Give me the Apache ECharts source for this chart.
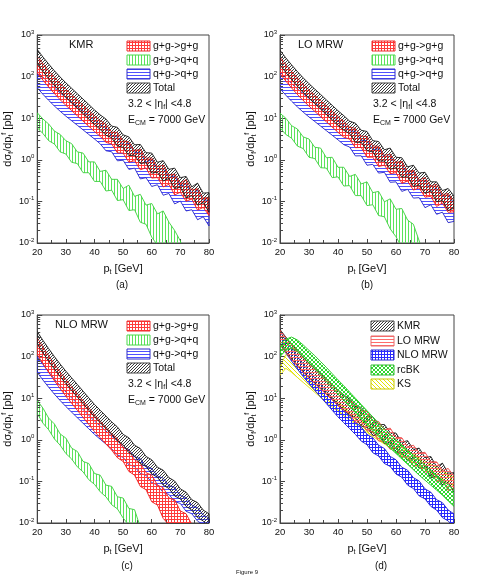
<!DOCTYPE html>
<html>
<head>
<meta charset="utf-8">
<script src="https://cdn.jsdelivr.net/npm/echarts@6/dist/echarts.min.js"></script>
<style>
  html, body { margin: 0; padding: 0; background: #fff; }
  #chart { width: 490px; height: 578px; }
</style>
</head>
<body>
<div id="chart"></div>
<script>
// transverse momentum grid [GeV]
const pt = [20, 22, 24, 26, 28, 30, 32, 34, 36, 38, 40, 42, 44, 46, 48, 50,
  52, 54, 56, 58, 60, 62, 64, 66, 68, 70, 72, 74, 76, 78, 80];

// (a) KMR
const kmrGgHi = [309, 205, 139, 96.8, 68.9, 50.1, 37.3, 27.8, 20.7, 15.4, 11.5, 8.75, 7.14, 4.63, 4.55, 2.88, 2.70, 1.67, 1.80, 1.09, 1.12, 0.679, 0.748, 0.433, 0.455, 0.275, 0.333, 0.188, 0.202, 0.120, 0.126];
const kmrGgLo = [123, 82.0, 56.0, 39.1, 27.9, 20.4, 15.3, 11.4, 8.55, 6.40, 4.79, 3.66, 2.62, 2.41, 1.47, 1.45, 0.879, 0.951, 0.578, 0.640, 0.363, 0.375, 0.223, 0.258, 0.143, 0.166, 0.101, 0.114, 0.0619, 0.0718, 0.0457];
const kmrQqHi = [13.5, 9.55, 7.24, 4.90, 4.07, 2.88, 2.45, 1.55, 1.45, 0.891, 0.891, 0.525, 0.562, 0.339, 0.339, 0.204, 0.245, 0.132, 0.148, 0.0813, 0.0891, 0.0501, 0.0589, 0.0316, 0.0200, 0.0112, 0.0032, 0.001, 0.001, 0.001, 0.001];
const kmrQqLo = [5.89, 4.27, 2.88, 2.40, 1.55, 1.38, 0.871, 0.813, 0.490, 0.490, 0.302, 0.302, 0.178, 0.186, 0.105, 0.110, 0.0603, 0.0631, 0.0316, 0.0282, 0.0138, 0.0089, 0.004, 0.001, 0.001, 0.001, 0.001, 0.001, 0.001, 0.001, 0.001];
const kmrQgHi = [135, 96.6, 70.8, 53.1, 40.7, 31.6, 24.5, 19.1, 14.8, 11.5, 8.91, 6.92, 5.89, 3.72, 3.55, 2.29, 2.47, 1.50, 1.47, 0.873, 1.01, 0.583, 0.615, 0.373, 0.411, 0.233, 0.263, 0.156, 0.184, 0.107, 0.107];
const kmrQgLo = [53.7, 37.5, 26.8, 19.6, 14.7, 11.2, 8.71, 6.76, 5.25, 4.07, 3.16, 2.42, 1.65, 1.56, 0.946, 0.977, 0.589, 0.631, 0.347, 0.372, 0.229, 0.251, 0.141, 0.155, 0.0871, 0.102, 0.0589, 0.0631, 0.0363, 0.0427, 0.0257];
const kmrTotHi = [447, 295, 200, 138, 97.7, 70.8, 52.5, 38.9, 28.8, 21.4, 15.8, 12.0, 9.55, 6.46, 6.03, 3.98, 3.55, 2.29, 2.34, 1.48, 1.45, 0.871, 0.955, 0.589, 0.631, 0.372, 0.398, 0.224, 0.275, 0.158, 0.162];
const kmrTotLo = [200, 132, 89.1, 61.7, 43.7, 31.6, 23.4, 17.4, 12.9, 9.55, 7.08, 5.37, 3.89, 3.39, 2.14, 2.00, 1.26, 1.29, 0.813, 0.851, 0.479, 0.501, 0.309, 0.355, 0.204, 0.219, 0.120, 0.138, 0.0813, 0.0933, 0.0550];

// (b) LO MRW
const loGgHi = [295, 196, 133, 92.5, 65.8, 47.9, 35.6, 26.6, 19.8, 14.7, 11.0, 8.36, 6.08, 5.70, 3.70, 3.63, 2.15, 2.11, 1.28, 1.37, 0.871, 0.916, 0.530, 0.557, 0.330, 0.372, 0.236, 0.259, 0.147, 0.154, 0.105];
const loGgLo = [117, 78.3, 53.5, 37.3, 26.6, 19.5, 14.6, 10.9, 8.17, 6.11, 4.57, 3.50, 3.15, 1.96, 1.98, 1.15, 1.16, 0.689, 0.745, 0.463, 0.490, 0.272, 0.308, 0.187, 0.212, 0.126, 0.133, 0.0755, 0.0916, 0.0545, 0.0562];
const loQqHi = [13.2, 10.0, 6.61, 5.50, 3.55, 3.16, 2.00, 1.91, 1.12, 1.15, 0.661, 0.661, 0.398, 0.447, 0.263, 0.295, 0.162, 0.174, 0.0977, 0.115, 0.0646, 0.0676, 0.0355, 0.0282, 0.0112, 0.004, 0.001, 0.001, 0.001, 0.001, 0.001];
const loQqLo = [5.89, 4.07, 3.31, 2.14, 1.86, 1.15, 1.07, 0.646, 0.631, 0.372, 0.389, 0.234, 0.240, 0.138, 0.138, 0.0794, 0.0832, 0.0457, 0.0427, 0.0219, 0.0141, 0.008, 0.004, 0.001, 0.001, 0.001, 0.001, 0.001, 0.001, 0.001, 0.001];
const loQgHi = [129, 92.3, 67.6, 50.7, 38.9, 30.2, 23.4, 18.2, 14.1, 11.0, 8.51, 6.61, 5.01, 4.79, 2.95, 2.88, 1.75, 1.84, 1.17, 1.23, 0.713, 0.735, 0.436, 0.504, 0.305, 0.321, 0.186, 0.205, 0.130, 0.144, 0.0891];
const loQgLo = [51.3, 35.8, 25.6, 18.7, 14.0, 10.7, 8.32, 6.46, 5.01, 3.89, 3.02, 2.31, 2.03, 1.24, 1.25, 0.741, 0.776, 0.479, 0.501, 0.288, 0.295, 0.174, 0.195, 0.120, 0.123, 0.0708, 0.0832, 0.0490, 0.0550, 0.0309, 0.0331];
const loTotHi = [427, 282, 191, 132, 93.3, 67.6, 50.1, 37.2, 27.5, 20.4, 15.1, 11.5, 8.51, 7.59, 5.13, 4.79, 2.88, 2.75, 1.74, 1.91, 1.15, 1.12, 0.676, 0.741, 0.479, 0.501, 0.295, 0.295, 0.182, 0.204, 0.135];
const loTotLo = [191, 126, 85.1, 58.9, 41.7, 30.2, 22.4, 16.6, 12.3, 9.12, 6.76, 5.13, 4.27, 2.63, 2.63, 1.66, 1.55, 0.933, 0.933, 0.589, 0.646, 0.380, 0.389, 0.229, 0.245, 0.155, 0.178, 0.0977, 0.105, 0.0603, 0.0692];

// (c) NLO MRW
const nloGgHi = [282, 170, 105, 66.1, 42.7, 28.2, 19.1, 12.9, 8.71, 5.89, 3.98, 2.82, 2.00, 1.41, 1.07, 0.661, 0.550, 0.331, 0.275, 0.162, 0.141, 0.0813, 0.0708, 0.0398, 0.0363, 0.0195, 0.0166, 0.0093, 0.004, 0.002, 0.001];
const nloGgLo = [112, 67.6, 41.7, 26.3, 17.0, 11.2, 7.59, 5.13, 3.47, 2.34, 1.58, 1.12, 0.794, 0.562, 0.372, 0.302, 0.174, 0.141, 0.0759, 0.0631, 0.0324, 0.0269, 0.0129, 0.0091, 0.005, 0.002, 0.001, 0.001, 0.001, 0.001, 0.001];
const nloQqHi = [8.91, 5.75, 3.31, 2.40, 1.38, 1.10, 0.631, 0.525, 0.302, 0.269, 0.155, 0.141, 0.0813, 0.0759, 0.0427, 0.0398, 0.0224, 0.0209, 0.0079, 0.001, 0.001, 0.001, 0.001, 0.001, 0.001, 0.001, 0.001, 0.001, 0.001, 0.001, 0.001];
const nloQqLo = [4.27, 2.51, 1.74, 1.05, 0.741, 0.468, 0.347, 0.224, 0.170, 0.110, 0.0851, 0.0562, 0.0427, 0.0275, 0.0219, 0.0132, 0.0089, 0.004, 0.001, 0.001, 0.001, 0.001, 0.001, 0.001, 0.001, 0.001, 0.001, 0.001, 0.001, 0.001, 0.001];
const nloQgHi = [100, 64.6, 42.7, 28.8, 20.0, 14.1, 10.2, 7.41, 5.37, 3.89, 2.82, 2.14, 1.62, 1.23, 0.977, 0.661, 0.583, 0.391, 0.353, 0.231, 0.204, 0.133, 0.120, 0.0798, 0.0718, 0.0457, 0.0407, 0.0269, 0.0234, 0.0155, 0.0132];
const nloQgLo = [41.7, 27.3, 18.3, 12.5, 8.79, 6.31, 4.63, 3.40, 2.50, 1.84, 1.35, 1.03, 0.791, 0.605, 0.433, 0.380, 0.251, 0.229, 0.155, 0.141, 0.0933, 0.0824, 0.0540, 0.0488, 0.0327, 0.0295, 0.0191, 0.0167, 0.0111, 0.0091, 0.0069];
const nloTotHi = [398, 245, 155, 100, 66.1, 44.7, 30.9, 21.4, 14.8, 10.2, 7.08, 5.13, 3.72, 2.69, 2.04, 1.35, 1.12, 0.741, 0.617, 0.398, 0.331, 0.219, 0.186, 0.123, 0.102, 0.0661, 0.0550, 0.0363, 0.0309, 0.0204, 0.0166];
const nloTotLo = [200, 123, 77.6, 50.1, 33.1, 22.4, 15.5, 10.7, 7.41, 5.13, 3.55, 2.57, 1.86, 1.35, 0.933, 0.759, 0.490, 0.407, 0.269, 0.229, 0.151, 0.126, 0.0813, 0.0676, 0.0447, 0.0380, 0.0251, 0.0204, 0.0135, 0.0112, 0.0079];

// (d) saturation models (KMR / LO / NLO totals reused from above)
const rcbkHi = [200, 263, 295, 251, 191, 141, 105, 75.9, 55.0, 38.9, 27.5, 20.0, 14.1, 10.0, 7.08, 5.01, 3.55, 2.51, 1.82, 1.35, 1.00, 0.759, 0.562, 0.427, 0.324, 0.245, 0.186, 0.141, 0.107, 0.0832, 0.0631];
const rcbkLo = [100, 141, 158, 132, 95.5, 69.2, 50.1, 35.5, 25.1, 17.8, 12.6, 8.91, 6.31, 4.47, 3.16, 2.24, 1.62, 1.17, 0.851, 0.631, 0.468, 0.347, 0.257, 0.191, 0.141, 0.107, 0.0813, 0.0617, 0.0468, 0.0339, 0.0251];
const ksHi = [56.2, 112, 89.1, 63.1, 44.7, 31.6, 24.0, 17.8, 13.5, 10.5, 7.94, 6.17, 4.79, 3.72, 2.95, 2.34, 1.86, 1.48, 1.20, 0.977, 0.794, 0.646, 0.537, 0.447, 0.372, 0.309, 0.257, 0.214, 0.178, 0.148, 0.123];
const ksLo = [35.5, 52.5, 41.7, 31.6, 24.0, 18.2, 13.8, 10.5, 7.94, 6.17, 4.79, 3.80, 3.02, 2.40, 1.91, 1.51, 1.20, 0.977, 0.794, 0.646, 0.525, 0.427, 0.347, 0.282, 0.234, 0.195, 0.162, 0.135, 0.112, 0.0933, 0.0776];

const logMinorTicks = [0.02, 0.03, 0.04, 0.05, 0.06, 0.07, 0.08, 0.09, 0.2, 0.3, 0.4, 0.5, 0.6, 0.7, 0.8, 0.9,
  2, 3, 4, 5, 6, 7, 8, 9, 20, 30, 40, 50, 60, 70, 80, 90, 200, 300, 400, 500, 600, 700, 800, 900];

const font = '"Liberation Sans", Arial, Helvetica, sans-serif';
const axisColor = '#444';

// hatch fills
function makePattern(size, draw) {
  const c = document.createElement('canvas');
  c.width = size;
  c.height = size;
  draw(c.getContext('2d'), size);
  return { image: c, repeat: 'repeat' };
}
const hatch = {
  redGrid: makePattern(3, (g) => { g.fillStyle = '#ff3b3b'; g.fillRect(0, 0, 3, 1); g.fillRect(0, 0, 1, 3); }),
  greenVert: makePattern(3, (g) => { g.fillStyle = '#5be35b'; g.fillRect(0, 0, 1, 3); }),
  blueHoriz: makePattern(3, (g) => { g.fillStyle = '#5050ff'; g.fillRect(0, 0, 3, 1); }),
  blackDiag: makePattern(3, (g) => { g.fillStyle = '#3a3a3a'; for (let i = 0; i < 3; i++) g.fillRect(i, 2 - i, 1, 1); }),
  redHoriz: makePattern(3, (g) => { g.fillStyle = '#ff6b6b'; g.fillRect(0, 0, 3, 1); }),
  blueGrid: makePattern(3, (g) => { g.fillStyle = '#2a2aff'; g.fillRect(0, 0, 3, 1); g.fillRect(0, 0, 1, 3); }),
  greenCross: makePattern(4, (g) => { g.fillStyle = '#2fd82f'; for (let i = 0; i < 4; i++) { g.fillRect(i, i, 1, 1); g.fillRect(i, 3 - i, 1, 1); } }),
  yellowDiag: makePattern(4, (g) => { g.fillStyle = '#e4e400'; for (let i = 0; i < 4; i++) g.fillRect(i, i, 1, 1); })
};

const grids = [
  { left: 35, top: 35, width: 174, height: 208 },
  { left: 280, top: 35, width: 174, height: 208 },
  { left: 35, top: 315, width: 174, height: 208 },
  { left: 280, top: 315, width: 174, height: 208 }
];

// one hatched polygon per band, lower and upper edges through the axis scales
function band(idx, lo, hi, fill, stroke) {
  return {
    type: 'custom',
    xAxisIndex: idx,
    yAxisIndex: idx,
    clip: true,
    silent: true,
    data: pt.map((x, i) => [x, lo[i], hi[i]]),
    encode: { x: 0, y: [1, 2] },
    renderItem(params, api) {
      if (params.dataIndex !== 0) return null;
      const upper = pt.map((x, i) => api.coord([x, hi[i]]));
      const lower = pt.map((x, i) => api.coord([x, lo[i]])).reverse();
      return {
        type: 'polygon',
        shape: { points: upper.concat(lower) },
        style: { fill, stroke, lineWidth: 0.9 }
      };
    }
  };
}

// 2..9 ticks inside each decade on the left axis
function minorTicks(idx) {
  return {
    type: 'custom',
    xAxisIndex: idx,
    yAxisIndex: idx,
    silent: true,
    data: logMinorTicks.map((v) => [20, v]),
    renderItem(params, api) {
      const p = api.coord([api.value(0), api.value(1)]);
      const y = Math.round(p[1]) + 0.5;
      return { type: 'line', shape: { x1: p[0], y1: y, x2: p[0] + 3, y2: y }, style: { stroke: axisColor, lineWidth: 1 } };
    }
  };
}

const xAxes = grids.map((g, i) => ({
  gridIndex: i,
  type: 'value',
  min: 20,
  max: 80,
  interval: 10,
  name: 'p{s|t} [GeV]',
  nameLocation: 'middle',
  nameGap: 19,
  nameTextStyle: {
    fontFamily: font, fontSize: 11, color: '#111', lineHeight: 14,
    rich: { s: { fontFamily: font, fontSize: 7, lineHeight: 8, verticalAlign: 'bottom', color: '#111' } }
  },
  axisLine: { lineStyle: { color: axisColor, width: 1 } },
  axisTick: { inside: true, length: 4, lineStyle: { color: axisColor } },
  minorTick: { show: true, splitNumber: 2, length: 3, lineStyle: { color: axisColor } },
  axisLabel: { fontFamily: font, fontSize: 9.5, color: '#111', margin: 4 },
  splitLine: { show: false }
}));

const yAxes = grids.map((g, i) => ({
  gridIndex: i,
  type: 'log',
  logBase: 10,
  min: 0.01,
  max: 1000,
  name: 'd\u03c3{s|f}/dp{s|t}{u|f} [pb]',
  nameLocation: 'middle',
  nameRotate: 90,
  nameGap: 19,
  nameTextStyle: {
    fontFamily: font, fontSize: 11, color: '#111', lineHeight: 14,
    rich: {
      s: { fontFamily: font, fontSize: 7, lineHeight: 8, verticalAlign: 'bottom', color: '#111' },
      u: { fontFamily: font, fontSize: 7, lineHeight: 8, verticalAlign: 'top', color: '#111' }
    }
  },
  axisLine: { lineStyle: { color: axisColor, width: 1 } },
  axisTick: { inside: true, length: 5, lineStyle: { color: axisColor } },
  axisLabel: {
    margin: 3,
    formatter: (v) => '{b|10}{e|' + Math.round(Math.log10(v)) + '}',
    rich: {
      b: { fontFamily: font, fontSize: 9, lineHeight: 12, color: '#111' },
      e: { fontFamily: font, fontSize: 6, lineHeight: 7, verticalAlign: 'top', color: '#111' }
    }
  },
  splitLine: { show: false }
}));

const series = [
  band(0, kmrQqLo, kmrQqHi, hatch.greenVert, '#3ccf3c'),
  band(0, kmrQgLo, kmrQgHi, hatch.blueHoriz, '#2323c8'),
  band(0, kmrGgLo, kmrGgHi, hatch.redGrid, '#ee1c1c'),
  band(0, kmrTotLo, kmrTotHi, hatch.blackDiag, '#1a1a1a'),
  band(1, loQqLo, loQqHi, hatch.greenVert, '#3ccf3c'),
  band(1, loQgLo, loQgHi, hatch.blueHoriz, '#2323c8'),
  band(1, loGgLo, loGgHi, hatch.redGrid, '#ee1c1c'),
  band(1, loTotLo, loTotHi, hatch.blackDiag, '#1a1a1a'),
  band(2, nloQqLo, nloQqHi, hatch.greenVert, '#3ccf3c'),
  band(2, nloQgLo, nloQgHi, hatch.blueHoriz, '#2323c8'),
  band(2, nloGgLo, nloGgHi, hatch.redGrid, '#ee1c1c'),
  band(2, nloTotLo, nloTotHi, hatch.blackDiag, '#1a1a1a'),
  band(3, ksLo, ksHi, hatch.yellowDiag, '#dede00'),
  band(3, nloTotLo, nloTotHi, hatch.blueGrid, '#1c1cd0'),
  band(3, kmrTotLo, kmrTotHi, hatch.blackDiag, '#1a1a1a'),
  band(3, loTotLo, loTotHi, hatch.redHoriz, '#e84040'),
  band(3, rcbkLo, rcbkHi, hatch.greenCross, '#22c822'),
  minorTicks(0), minorTicks(1), minorTicks(2), minorTicks(3)
];

// legend boxes and labels drawn as graphics
const sub = { s: { fontFamily: font, fontSize: 7, lineHeight: 8, verticalAlign: 'bottom', fill: '#111' } };
function text(x, y, str, size, align) {
  return {
    type: 'text', x, y, silent: true,
    style: { text: str, fontFamily: font, fontSize: size, fill: '#111', align: align || 'left', verticalAlign: 'middle', lineHeight: 14, rich: sub }
  };
}
function legendRow(x, y, fill, stroke, label) {
  return [
    { type: 'rect', silent: true, shape: { x: x, y: y - 5, width: 23, height: 10 }, style: { fill, stroke, lineWidth: 1 } },
    text(x + 26, y, label, 10.5)
  ];
}
function processLegend(dx, dy, title, titleX) {
  return [
    text(titleX, dy + 45, title, 11),
    ...legendRow(dx + 127, dy + 46, hatch.redGrid, '#ee2a2a', 'g+g->g+g'),
    ...legendRow(dx + 127, dy + 60, hatch.greenVert, '#4ad84a', 'g+g->q+q'),
    ...legendRow(dx + 127, dy + 74, hatch.blueHoriz, '#2f2fc8', 'q+g->q+g'),
    ...legendRow(dx + 127, dy + 88, hatch.blackDiag, '#444', 'Total'),
    text(dx + 128, dy + 104, '3.2 < |\u03b7{s|f}| <4.8', 10.5),
    text(dx + 128, dy + 120, 'E{s|CM} = 7000 GeV', 10.5)
  ];
}

const graphics = [
  ...processLegend(0, 0, 'KMR', 69),
  ...processLegend(245, 0, 'LO MRW', 298),
  ...processLegend(0, 280, 'NLO MRW', 55),
  ...legendRow(371, 326, hatch.blackDiag, '#444', 'KMR'),
  ...legendRow(371, 341, hatch.redHoriz, '#e86a6a', 'LO MRW'),
  ...legendRow(371, 355, hatch.blueGrid, '#2a2ad0', 'NLO MRW'),
  ...legendRow(371, 370, hatch.greenCross, '#33bb33', 'rcBK'),
  ...legendRow(371, 384, hatch.yellowDiag, '#c8c800', 'KS'),
  text(122, 285, '(a)', 10, 'center'),
  text(367, 285, '(b)', 10, 'center'),
  text(127, 566, '(c)', 10, 'center'),
  text(381, 566, '(d)', 10, 'center'),
  text(247, 572, 'Figure 9', 6, 'center')
];

const chart = echarts.init(document.getElementById('chart'), null, { renderer: 'canvas' });
chart.setOption({
  backgroundColor: '#fff',
  animation: false,
  grid: grids.map((g) => ({ ...g, show: true, borderColor: axisColor, borderWidth: 1, backgroundColor: 'transparent', containLabel: false })),
  xAxis: xAxes,
  yAxis: yAxes,
  series,
  graphic: { elements: graphics }
});
</script>
</body>
</html>
